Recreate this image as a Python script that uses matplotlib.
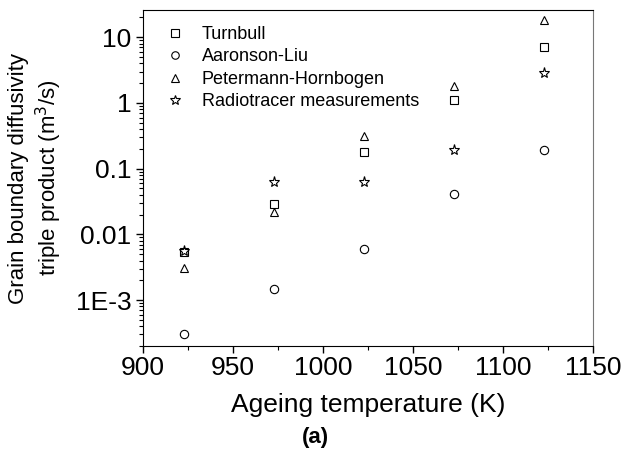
import matplotlib
matplotlib.use('Agg')
import matplotlib.pyplot as plt
import matplotlib.ticker as mticker
import numpy as np

plt.rcParams['font.family'] = ['Liberation Sans', 'DejaVu Sans']

temps = [923, 973, 1023, 1073, 1123]
turnbull = [0.0054, 0.029, 0.18, 1.1, 7.0]
aaronson_liu = [3.0e-4, 1.5e-3, 0.006, 0.041, 0.19]
petermann = [0.0031, 0.022, 0.31, 1.8, 18.5]
radiotracer = [0.0055, 0.063, 0.063, 0.19, 2.9]

series = [
    ('Turnbull', turnbull, 's'),
    ('Aaronson-Liu', aaronson_liu, 'o'),
    ('Petermann-Hornbogen', petermann, '^'),
    ('Radiotracer measurements', radiotracer, '*'),
]

fig = plt.figure(figsize=(6.3, 4.54), dpi=100)
ax = fig.add_axes([143/630, 1 - 346/454, 450/630, 336/454])

for name, vals, m in series:
    ms = 8 if m == '*' else 6
    ax.plot(temps, vals, linestyle='none', marker=m, markersize=ms,
            mfc='none', mec='k', mew=0.8, label=name)

ax.set_yscale('log')
ax.set_xlim(900, 1150)
ax.set_ylim(2.0e-4, 26)

ax.xaxis.set_major_locator(mticker.MultipleLocator(50))
ax.xaxis.set_minor_locator(mticker.MultipleLocator(25))
ax.yaxis.set_major_locator(mticker.LogLocator(base=10, numticks=10))
ax.yaxis.set_minor_locator(mticker.LogLocator(base=10, subs=np.arange(2, 10), numticks=20))
ax.yaxis.set_minor_formatter(mticker.NullFormatter())

def yfmt(v, pos):
    e = int(round(np.log10(v)))
    if e >= 0:
        return '%d' % round(v)
    if e >= -2:
        return ('%.' + str(-e) + 'f') % v
    return '1E%d' % e

ax.yaxis.set_major_formatter(mticker.FuncFormatter(yfmt))

ax.tick_params(axis='both', which='major', direction='out', length=5, width=1,
               labelsize=19, colors='k', top=False, right=False)
ax.tick_params(axis='x', which='major', pad=2)
ax.tick_params(axis='both', which='minor', direction='out', length=3, width=0.8,
               top=False, right=False)

for s in ['left', 'bottom', 'top']:
    ax.spines[s].set_color('k')
ax.spines['right'].set_color('#777777')

ax.set_xlabel('Ageing temperature (K)', fontsize=19, labelpad=9.5)
ax.set_ylabel('Grain boundary diffusivity\ntriple product (m$^3$/s)', fontsize=16,
              labelpad=8, linespacing=1.25)

ax.legend(loc='upper left', frameon=False, fontsize=13, markerscale=0.9,
          handletextpad=1.0, labelspacing=0.3, borderaxespad=0.3,
          bbox_to_anchor=(0.022, 0.99), handlelength=1.0)

fig.text(315/630, 1 - 438/454, '(a)', ha='center', va='center',
         fontsize=16, fontweight='bold')

fig.savefig('out.png', dpi=100)
